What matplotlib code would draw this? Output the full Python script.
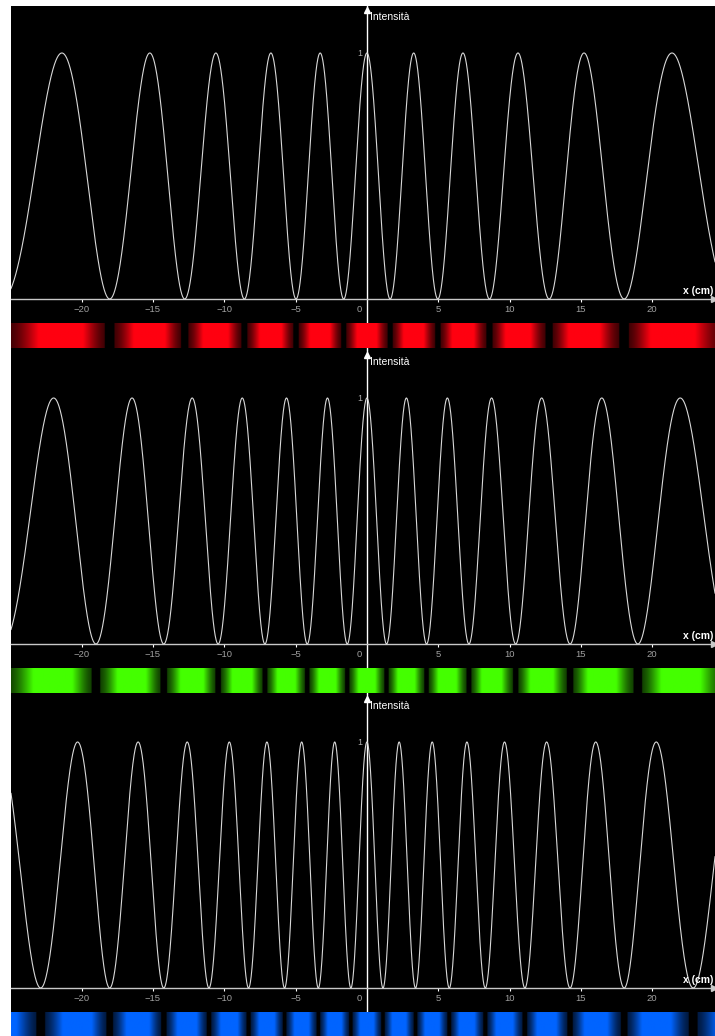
import numpy as np
import matplotlib
matplotlib.use('Agg')
import matplotlib.pyplot as plt
import matplotlib.transforms as mtransforms

plt.rcParams['font.family'] = ['Liberation Sans', 'DejaVu Sans']

# --- dati (doppia fenditura) ---
lunghezze_onda_nm = [650, 550, 450]          # rosso, verde, blu
colori_frange = ['#ff0010', '#44ff00', '#0064ff']
distanza_fenditure_nm = 5000
distanza_schermo_cm = 25
x_vista = (-24.95, 24.4)
y_vista = (-0.2114, 1.191)
x_tacche = [-20, -15, -10, -5, 0, 5, 10, 15, 20]
banda_y = (-0.199, -0.0976)

W, H = 715, 1036
assi_px = [299, 644, 988]   # posizione in pixel dell'asse x di ogni pannello


def intensita(x, lam):
    sen = x / np.sqrt(x ** 2 + distanza_schermo_cm ** 2)
    return np.cos(np.pi * distanza_fenditure_nm * sen / lam) ** 2


def colore_banda(I, colore):
    c = np.array(matplotlib.colors.to_rgb(colore))
    liv = np.where(I < 0.03, 0.0, 0.25 + 0.75 * np.clip((I - 0.03) / 0.6, 0, 1))
    return liv[None, :, None] * c[None, None, :]


fig = plt.figure(figsize=(W / 100, H / 100), dpi=100, facecolor='white')
x = np.linspace(x_vista[0], x_vista[1], 4000)

for k, lam in enumerate(lunghezze_onda_nm):
    top_px = assi_px[k] - 293
    ax = fig.add_axes([11 / W, 1 - (top_px + 345) / H, 704 / W, 345 / H])
    ax.set_facecolor('black')

    I = intensita(x, lam)
    ax.plot(x, I, color='#d8d8d8', lw=0.8, zorder=3)

    # assi alla GeoGebra
    for s in ['top', 'right']:
        ax.spines[s].set_visible(False)
    ax.spines['bottom'].set_position(('data', 0))
    ax.spines['bottom'].set_color('#c8c8c8')
    ax.spines['bottom'].set_linewidth(1.0)
    ax.spines['left'].set_position(('data', 0))
    ax.spines['left'].set_color('white')
    ax.spines['left'].set_linewidth(1.0)
    ax.set_xticks(x_tacche)
    ax.set_xticklabels([str(t).replace('-', '\u2212') for t in x_tacche])
    ax.tick_params(axis='x', colors='white', labelcolor='#a0a0a0', length=2,
                   width=0.8, labelsize=6.8, pad=2)
    ax.set_yticks([1])
    ax.set_yticklabels(['1'])
    ax.tick_params(axis='y', colors='white', labelcolor='#b0b0b0', length=0,
                   labelsize=6.5, pad=3)
    # etichetta "0" spostata a sinistra dell'asse y
    sposta = mtransforms.ScaledTranslation(-0.08, 0, fig.dpi_scale_trans)
    for t, lab in zip(x_tacche, ax.get_xticklabels()):
        if t == 0:
            lab.set_transform(lab.get_transform() + sposta)
    ax.xaxis.get_major_ticks()[x_tacche.index(0)].tick1line.set_visible(False)

    # frecce
    ax.plot([0], [1.175], marker='^', color='white', markersize=4,
            clip_on=False, zorder=5)
    ax.plot([x_vista[1] - 0.05], [0], marker='>', color='#c8c8c8', markersize=4,
            zorder=5)
    ax.text(0.25, 1.146, 'Intensità', color='white', fontsize=7.5,
            ha='left', va='center')
    ax.text(24.3, 0.012, 'x (cm)', color='white', fontsize=7.5,
            fontweight='bold', ha='right', va='bottom')

    # banda delle frange
    ax.imshow(colore_banda(I, colori_frange[k]), extent=(x_vista[0], x_vista[1],
              banda_y[0], banda_y[1]), aspect='auto', interpolation='bilinear',
              zorder=4)
    ax.set_xlim(*x_vista)
    ax.set_ylim(*y_vista)

fig.savefig('out.png', dpi=100, facecolor='white')
